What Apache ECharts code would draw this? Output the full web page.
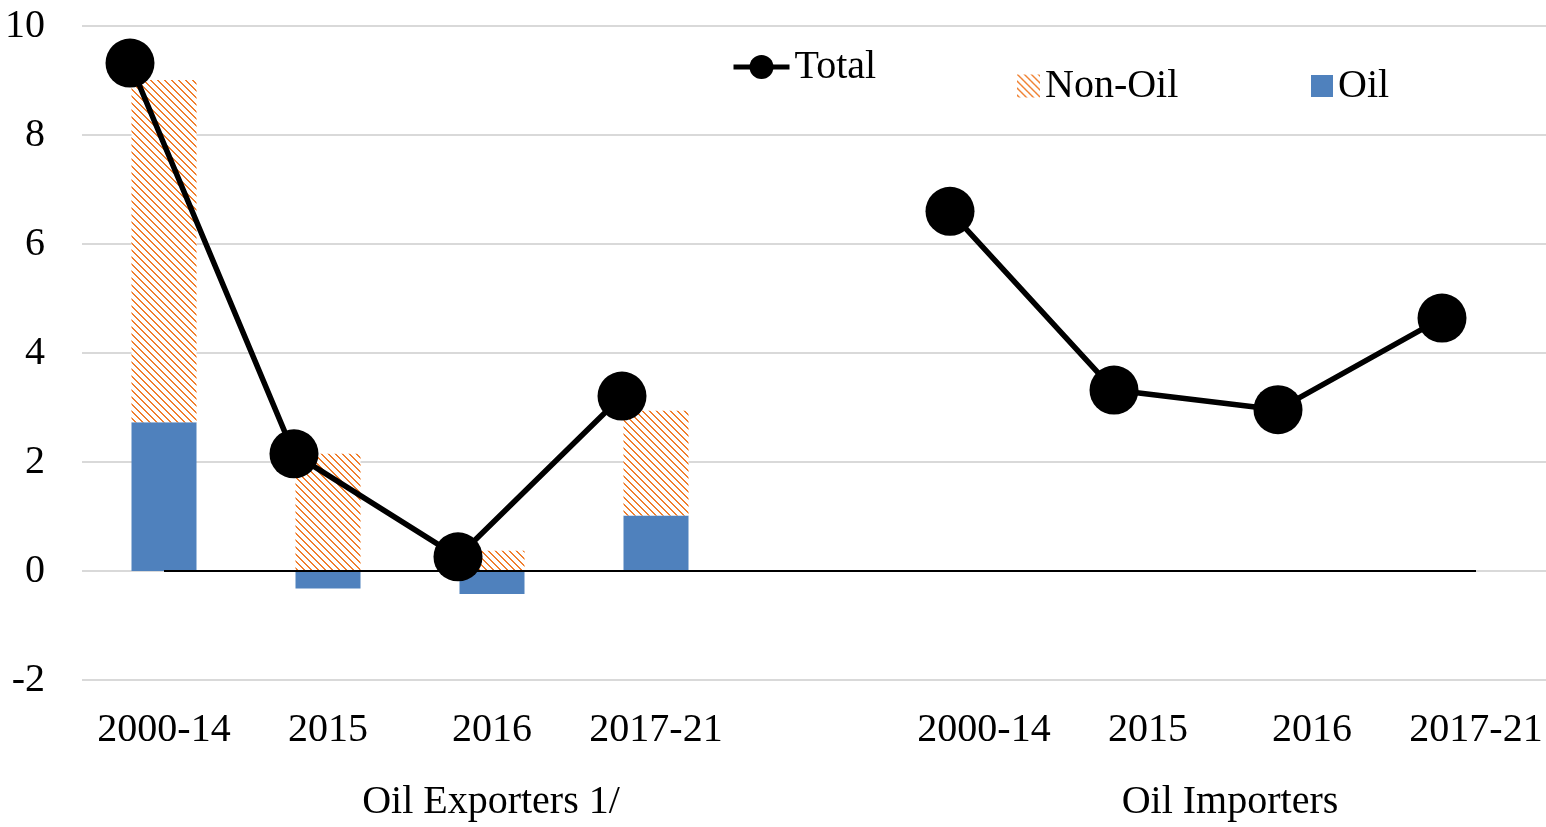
<!DOCTYPE html>
<html>
<head>
<meta charset="utf-8">
<script src="https://cdn.jsdelivr.net/npm/echarts@6/dist/echarts.min.js"></script>
<style>
html,body{margin:0;padding:0;background:#fff;overflow:hidden;}
#chart{width:1558px;height:827px;}
</style>
</head>
<body>
<div id="chart"></div>
<script>
const categories = ['2000-14','2015','2016','2017-21','','2000-14','2015','2016','2017-21'];
const oil    = [2.73, -0.32, -0.42, 1.02, null, null, null, null, null];
const nonOil = [6.28, 2.15, 0.37, 1.92, null, null, null, null, null];
const total  = [9.32, 2.15, 0.26, 3.21, null, 6.60, 3.32, 2.96, 4.64];
const zeroLine = [0, 0, 0, 0, 0, 0, 0, 0, 0];
const groupLabels = ['Oil Exporters 1/', 'Oil Importers'];
const yTicks = { min: -2, max: 10, interval: 2 };

const FONT = '"Liberation Serif", "DejaVu Serif", serif';
const FS = 40;
const BLUE = '#4F81BD';
const ORANGE = '#F07F2E';

// hatch pattern for Non-Oil
const P = 7;
const pc = document.createElement('canvas');
pc.width = P; pc.height = P;
const pctx = pc.getContext('2d');
pctx.fillStyle = '#ffffff';
pctx.fillRect(0,0,P,P);
pctx.fillStyle = ORANGE;
for (let i = 0; i < P; i++) {
  pctx.fillRect(i, i, 1, 1);
  pctx.fillRect((i + 1) % P, i, 1, 1);
}
const hatch = { image: pc, repeat: 'repeat' };

const chart = echarts.init(document.getElementById('chart'), null, {renderer: 'canvas'});
const gridTop = 26, gridHeight = 654;
chart.setOption({
  animation: false,
  backgroundColor: '#fff',
  textStyle: { fontFamily: FONT },
  grid: [
    { left: 82, top: gridTop, right: 0, height: gridHeight },
    { left: 48, top: gridTop, right: 34, height: gridHeight }
  ],
  xAxis: [
    { type: 'category', gridIndex: 0, data: categories,
      axisLine: { show: false }, axisTick: { show: false },
      axisLabel: { color: '#000', fontSize: FS, fontFamily: FONT, margin: 30, interval: 0 } },
    { type: 'category', gridIndex: 1, data: categories, show: false }
  ],
  yAxis: [
    { type: 'value', gridIndex: 0, min: yTicks.min, max: yTicks.max, interval: yTicks.interval,
      axisLine: { show: false }, axisTick: { show: false },
      axisLabel: { color: '#000', fontSize: FS, fontFamily: FONT, margin: 37 },
      splitLine: { lineStyle: { color: '#d9d9d9', width: 2 } } },
    { type: 'value', gridIndex: 1, min: yTicks.min, max: yTicks.max, interval: yTicks.interval, show: false,
      splitLine: { show: false } }
  ],
  legend: [
    { data: ['Total'], left: 731, top: 47, padding: 0, itemWidth: 56, itemHeight: 30, itemGap: 0,
      lineStyle: { width: 5 },
      textStyle: { fontSize: FS, fontFamily: FONT, color: '#000' } },
    { data: [{ name: 'Non-Oil', icon: 'rect' }], left: 1017, top: 66, padding: 0, itemWidth: 23, itemHeight: 23,
      textStyle: { fontSize: FS, fontFamily: FONT, color: '#000' } },
    { data: [{ name: 'Oil', icon: 'rect' }], left: 1311, top: 66, padding: 0, itemWidth: 22, itemHeight: 22,
      textStyle: { fontSize: FS, fontFamily: FONT, color: '#000' } }
  ],
  series: [
    { name: 'Oil', type: 'bar', stack: 'a', xAxisIndex: 0, yAxisIndex: 0, data: oil,
      barWidth: 65, itemStyle: { color: BLUE }, z: 2 },
    { name: 'Non-Oil', type: 'bar', stack: 'a', xAxisIndex: 0, yAxisIndex: 0, data: nonOil,
      barWidth: 65, itemStyle: { color: hatch }, z: 2 },
    { name: 'zero', type: 'line', xAxisIndex: 0, yAxisIndex: 0, data: zeroLine,
      showSymbol: false, symbol: 'none', lineStyle: { color: '#000', width: 2 }, z: 3, silent: true },
    { name: 'Total', type: 'line', xAxisIndex: 1, yAxisIndex: 1, data: total,
      symbol: 'circle', symbolSize: 49, itemStyle: { color: '#000' },
      lineStyle: { color: '#000', width: 5.5 }, z: 4 }
  ],
  graphic: [
    { type: 'text', x: 491, y: 802, style: { text: groupLabels[0], fontSize: FS, fontFamily: FONT, fill: '#000', align: 'center', verticalAlign: 'middle' } },
    { type: 'text', x: 1230, y: 802, style: { text: groupLabels[1], fontSize: FS, fontFamily: FONT, fill: '#000', align: 'center', verticalAlign: 'middle' } }
  ]
});
</script>
</body>
</html>
